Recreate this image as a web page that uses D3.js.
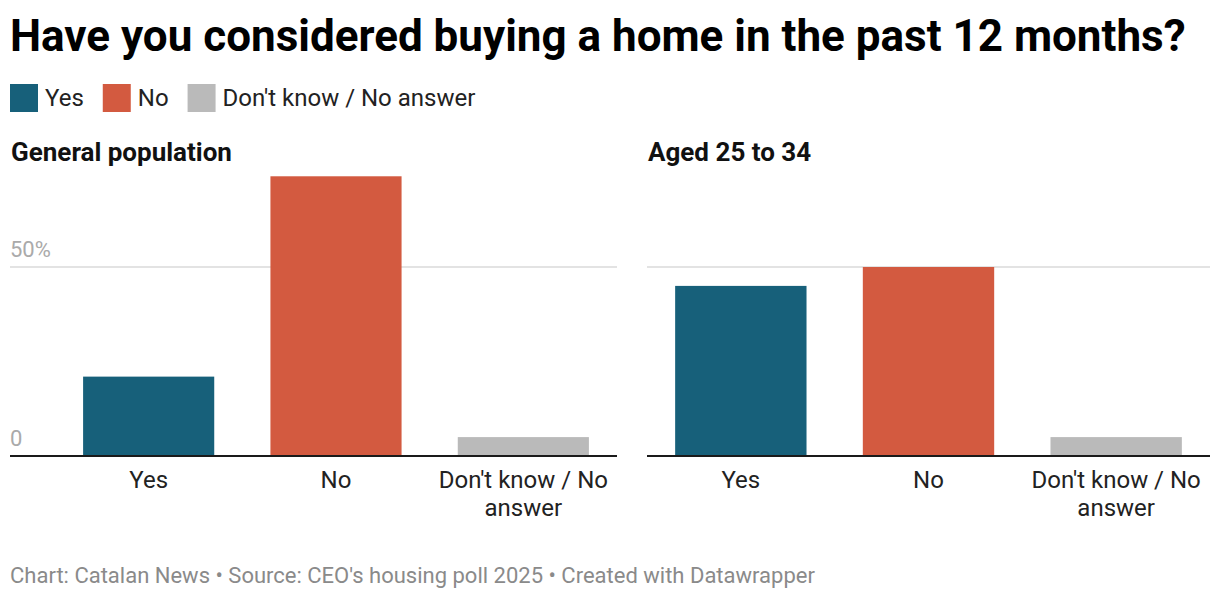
<!DOCTYPE html>
<html><head><meta charset="utf-8">
<script src="https://cdn.jsdelivr.net/npm/d3@7"></script>
<style>body{margin:0;background:#fff;font-family:Roboto,sans-serif}</style>
</head><body>
<svg id="c" width="1220" height="600"></svg>
<script>
const title = "Have you considered buying a home in the past 12 months?";
const categories = ["Yes", "No", "Don't know / No answer"];
const colors = ["#17607a", "#d35a40", "#bababa"];
const panels = ["General population", "Aged 25 to 34"];
const generalValues = [21, 74, 5];
const agedValues = [45, 50, 5];
const yTicks = [0, 50];
const footer = "Chart: Catalan News • Source: CEO's housing poll 2025 • Created with Datawrapper";

const svg = d3.select("#c");
svg.append("text").attr("x", 10).attr("y", 51).attr("font-size", 44).attr("font-weight", 700)
  .attr("fill", "#000").text(title);

// legend
let lx = 10;
const lg = svg.append("g");
categories.forEach((c, i) => {
  lg.append("rect").attr("x", lx).attr("y", 84).attr("width", 28).attr("height", 28).attr("fill", colors[i]);
  const t = lg.append("text").attr("x", lx + 35).attr("y", 106).attr("font-size", 24).attr("fill", "#222").text(c);
  lx += 35 + t.node().getComputedTextLength() + 19;
});

const y = d3.scaleLinear().domain([0, 50]).range([456, 267]);
const panelDefs = [
  {name: panels[0], values: generalValues, x0: 10, x1: 617, bx0: 55, ticks: true},
  {name: panels[1], values: agedValues, x0: 647, x1: 1210, bx0: 647, ticks: false}
];
panelDefs.forEach(p => {
  const g = svg.append("g");
  g.append("text").attr("x", p.x0 + 1).attr("y", 161).attr("font-size", 26).attr("font-weight", 700)
    .attr("fill", "#111").text(p.name);
  const x = d3.scaleBand().domain(categories).range([p.bx0, p.x1]).paddingInner(0.3).paddingOuter(0.15);
  g.selectAll("line.grid").data(yTicks.filter(d => d > 0)).join("line")
    .attr("x1", p.x0).attr("x2", p.x1).attr("y1", d => y(d)).attr("y2", d => y(d))
    .attr("stroke", "#e3e3e3").attr("stroke-width", 2);
  if (p.ticks) {
    g.selectAll("text.tick").data(yTicks).join("text")
      .attr("x", p.x0).attr("y", d => y(d) - 10).attr("font-size", 22).attr("fill", "#aaa")
      .text(d => d === 0 ? "0" : d + "%");
  }
  g.selectAll("rect.bar").data(p.values).join("rect")
    .attr("x", (d, i) => x(categories[i])).attr("width", x.bandwidth())
    .attr("y", d => y(d)).attr("height", d => y(0) - y(d))
    .attr("fill", (d, i) => colors[i]);
  g.append("line").attr("x1", p.x0).attr("x2", p.x1).attr("y1", 456).attr("y2", 456)
    .attr("stroke", "#1a1a1a").attr("stroke-width", 2);
  categories.forEach(c => {
    const cx = x(c) + x.bandwidth() / 2;
    const t = g.append("text").attr("text-anchor", "middle").attr("font-size", 24).attr("fill", "#222");
    const lines = c === "Don't know / No answer" ? ["Don't know / No", "answer"] : [c];
    lines.forEach((ln, k) => t.append("tspan").attr("x", cx).attr("y", 488 + k * 28).text(ln));
  });
});

svg.append("text").attr("x", 10).attr("y", 583).attr("font-size", 22).attr("fill", "#8a8a8a").text(footer);
</script>
</body></html>
